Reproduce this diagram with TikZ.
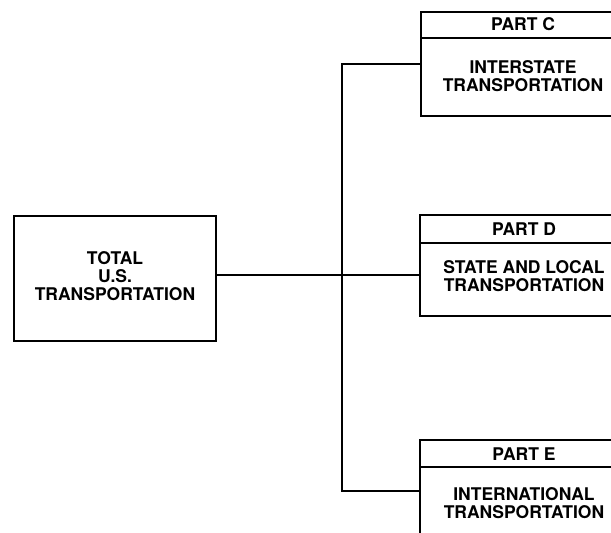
\documentclass[tikz,border=0pt]{standalone}
\usepackage{fontspec}
\setmainfont{TeX Gyre Heros}
\begin{document}
\begin{tikzpicture}[x=1pt,y=1pt]
\tikzset{
  block/.style={draw, line width=2pt, rectangle, inner sep=0pt, anchor=north west},
  lbl/.style={font=\bfseries\fontsize{17.5}{18}\selectfont, align=center, inner sep=0pt},
  wire/.style={line width=2pt}
}
\useasboundingbox (0,0) rectangle (611,533);
\fill[white] (0,0) rectangle (611,533);
\clip (0,0) rectangle (611,533);

% Total box
\node[block, minimum width=202pt, minimum height=125pt] (Total) at (13,318) {};
\node[lbl] (Ttext) at (115,256.5) {TOTAL\\U.S.\\TRANSPORTATION};

% Part C
\node[block, minimum width=208pt, minimum height=104pt] (C) at (420,522) {};
\draw[wire] ([yshift=-27pt]C.north west) -- ([yshift=-27pt]C.north east);
\node[lbl] (Chead) at (523,508.5) {PART C};
\node[lbl] (Cbody) at (523,456.5) {INTERSTATE\\TRANSPORTATION};

% Part D
\node[block, minimum width=209pt, minimum height=101pt] (D) at (419,319) {};
\draw[wire] ([yshift=-29pt]D.north west) -- ([yshift=-29pt]D.north east);
\node[lbl] (Dhead) at (524,304) {PART D};
\node[lbl] (Dbody) at (524,256.5) {STATE AND LOCAL\\TRANSPORTATION};

% Part E
\node[block, minimum width=209pt, minimum height=102pt] (E) at (419,94) {};
\draw[wire] ([yshift=-28pt]E.north west) -- ([yshift=-28pt]E.north east);
\node[lbl] (Ehead) at (524,79) {PART E};
\node[lbl] (Ebody) at (524,29.5) {INTERNATIONAL\\TRANSPORTATION};

% Connectors
\coordinate (bus) at (342,0);
\draw[wire] (C.west) -- (C.west -| bus) -- (E.west -| bus) -- (E.west);
\draw[wire] ([yshift=3.5pt]Total.east) -- ([yshift=3.5pt]Total.east -| D.west);
\end{tikzpicture}
\end{document}
